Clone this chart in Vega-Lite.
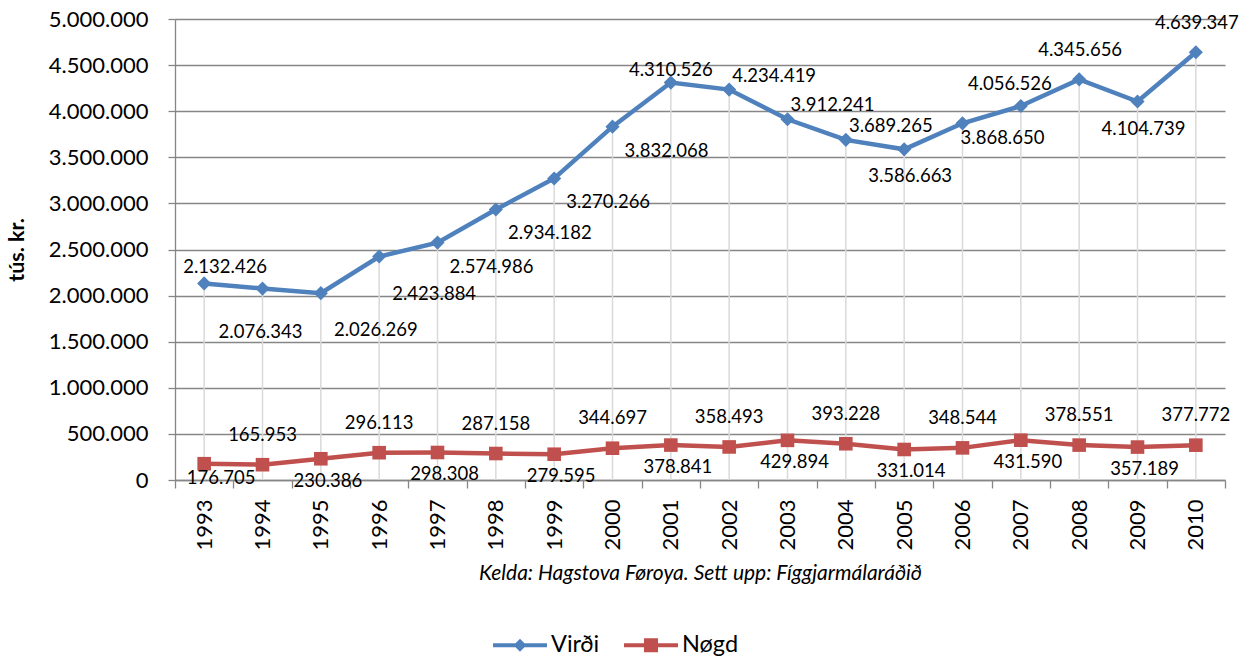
{
  "$schema": "https://vega.github.io/schema/vega-lite/v6.json",
  "autosize": {"type": "none"},
  "padding": {"left": 175, "top": 19, "right": 28, "bottom": 177},
  "width": 1050,
  "height": 461,
  "background": "white",
  "config": {
    "font": "Lato",
    "view": {"stroke": null},
    "locale": {"number": {"decimal": ",", "thousands": ".", "grouping": [3], "currency": ["", " kr."]}},
    "text": {"font": "Lato", "fontSize": 18.5, "color": "#000000", "baseline": "middle", "align": "center"}
  },
  "datasets": {
    "d": [
      {"year": 1993, "serie": "Virði", "value": 2132426},
      {"year": 1994, "serie": "Virði", "value": 2076343},
      {"year": 1995, "serie": "Virði", "value": 2026269},
      {"year": 1996, "serie": "Virði", "value": 2423884},
      {"year": 1997, "serie": "Virði", "value": 2574986},
      {"year": 1998, "serie": "Virði", "value": 2934182},
      {"year": 1999, "serie": "Virði", "value": 3270266},
      {"year": 2000, "serie": "Virði", "value": 3832068},
      {"year": 2001, "serie": "Virði", "value": 4310526},
      {"year": 2002, "serie": "Virði", "value": 4234419},
      {"year": 2003, "serie": "Virði", "value": 3912241},
      {"year": 2004, "serie": "Virði", "value": 3689265},
      {"year": 2005, "serie": "Virði", "value": 3586663},
      {"year": 2006, "serie": "Virði", "value": 3868650},
      {"year": 2007, "serie": "Virði", "value": 4056526},
      {"year": 2008, "serie": "Virði", "value": 4345656},
      {"year": 2009, "serie": "Virði", "value": 4104739},
      {"year": 2010, "serie": "Virði", "value": 4639347},
      {"year": 1993, "serie": "Nøgd", "value": 176705},
      {"year": 1994, "serie": "Nøgd", "value": 165953},
      {"year": 1995, "serie": "Nøgd", "value": 230386},
      {"year": 1996, "serie": "Nøgd", "value": 296113},
      {"year": 1997, "serie": "Nøgd", "value": 298308},
      {"year": 1998, "serie": "Nøgd", "value": 287158},
      {"year": 1999, "serie": "Nøgd", "value": 279595},
      {"year": 2000, "serie": "Nøgd", "value": 344697},
      {"year": 2001, "serie": "Nøgd", "value": 378841},
      {"year": 2002, "serie": "Nøgd", "value": 358493},
      {"year": 2003, "serie": "Nøgd", "value": 429894},
      {"year": 2004, "serie": "Nøgd", "value": 393228},
      {"year": 2005, "serie": "Nøgd", "value": 331014},
      {"year": 2006, "serie": "Nøgd", "value": 348544},
      {"year": 2007, "serie": "Nøgd", "value": 431590},
      {"year": 2008, "serie": "Nøgd", "value": 378551},
      {"year": 2009, "serie": "Nøgd", "value": 357189},
      {"year": 2010, "serie": "Nøgd", "value": 377772}
    ]
  },
  "data": {"name": "d"},
  "encoding": {
    "x": {
      "field": "year", "type": "ordinal", "bandPosition": 0.5,
      "scale": {"type": "band", "paddingInner": 0, "paddingOuter": 0},
      "axis": {
        "title": "Kelda: Hagstova Føroya. Sett upp: Fíggjarmálaráðið",
        "titleFont": "Lato", "titleFontStyle": "italic", "titleFontWeight": "normal", "titleFontSize": 21, "titleColor": "#000000", "titlePadding": 12,
        "labelAngle": -90, "labelAlign": "right", "labelBaseline": "middle", "labelFont": "Lato", "labelFontSize": 22, "labelColor": "#000000", "labelPadding": 11,
        "tickBand": "extent", "ticks": true, "tickSize": 8, "tickColor": "#868686", "tickWidth": 1.3,
        "domainColor": "#868686", "domainWidth": 1.3, "grid": false
      }
    },
    "y": {
      "field": "value", "type": "quantitative",
      "scale": {"domain": [0, 5000000], "nice": false},
      "axis": {
        "title": "tús. kr.", "titleFont": "Lato", "titleFontWeight": "bold", "titleFontSize": 21.5, "titleColor": "#000000", "titlePadding": 20,
        "values": [0, 500000, 1000000, 1500000, 2000000, 2500000, 3000000, 3500000, 4000000, 4500000, 5000000],
        "format": ",d", "labelFont": "Lato", "labelFontSize": 22, "labelColor": "#000000", "labelPadding": 20,
        "tickSize": 7, "tickColor": "#868686", "tickWidth": 1.3,
        "grid": true, "gridColor": "#868686", "gridWidth": 1.3,
        "domainColor": "#868686", "domainWidth": 1.3
      }
    }
  },
  "layer": [
    {
      "transform": [{"filter": "datum.serie == 'Virði'"}],
      "mark": {"type": "rule", "color": "#d9d9d9", "strokeWidth": 1.5},
      "encoding": {"y": {"datum": 0, "type": "quantitative"}, "y2": {"field": "value"}}
    },
    {
      "transform": [{"filter": "datum.serie == 'Virði'"}],
      "mark": {"type": "line", "strokeWidth": 4.5, "color": "#4F81BD"},
      "encoding": {}
    },
    {
      "transform": [{"filter": "datum.serie == 'Nøgd'"}],
      "mark": {"type": "line", "strokeWidth": 4.5, "color": "#C0504D"},
      "encoding": {}
    },
    {
      "transform": [{"filter": "datum.serie == 'Virði'"}],
      "mark": {"type": "point", "filled": true, "opacity": 1, "shape": "diamond", "size": 200, "color": "#4F81BD"},
      "encoding": {}
    },
    {
      "transform": [{"filter": "datum.serie == 'Nøgd'"}],
      "mark": {"type": "point", "filled": true, "opacity": 1, "shape": "square", "size": 185, "color": "#C0504D"},
      "encoding": {}
    },
    {
      "mark": {"type": "point", "filled": true, "opacity": 0},
      "encoding": {
        "color": {
          "field": "serie", "type": "nominal",
          "scale": {"domain": ["Virði", "Nøgd"], "range": ["#4F81BD", "#C0504D"]},
          "legend": {
            "orient": "none", "legendX": 318, "legendY": 599, "direction": "horizontal", "title": null,
            "symbolSize": 2916, "symbolOpacity": 1, "symbolStrokeWidth": 0, "labelFont": "Lato", "labelFontSize": 23.5, "labelColor": "#000000", "columnPadding": 24, "labelOffset": 4
          }
        },
        "shape": {
          "field": "serie", "type": "nominal",
          "scale": {"domain": ["Virði", "Nøgd"], "range": ["M-1,-0.075L1,-0.075L1,0.075L-1,0.075Z M0,-0.24L0.24,0L0,0.24L-0.24,0Z", "M-1,-0.075L1,-0.075L1,0.075L-1,0.075Z M-0.26,-0.26L0.26,-0.26L0.26,0.26L-0.26,0.26Z"]},
          "legend": {
            "orient": "none", "legendX": 318, "legendY": 599, "direction": "horizontal", "title": null,
            "symbolSize": 2916, "symbolOpacity": 1, "symbolStrokeWidth": 0, "labelFont": "Lato", "labelFontSize": 23.5, "labelColor": "#000000", "columnPadding": 24, "labelOffset": 4
          }
        }
      }
    },
    {
      "transform": [{"filter": "datum.serie == 'Nøgd' && datum.year % 2 == 0"}],
      "mark": {"type": "text", "dy": -30, "dx": 0},
      "encoding": {"text": {"field": "value", "type": "quantitative", "format": ",d"}}
    },
    {
      "transform": [{"filter": "datum.serie == 'Nøgd' && datum.year % 2 == 1 && datum.year != 1993"}],
      "mark": {"type": "text", "dy": 22, "dx": 7},
      "encoding": {"text": {"field": "value", "type": "quantitative", "format": ",d"}}
    },
    {
      "transform": [{"filter": "datum.serie == 'Nøgd' && datum.year == 1993"}],
      "mark": {"type": "text", "dy": 14, "dx": 17},
      "encoding": {"text": {"field": "value", "type": "quantitative", "format": ",d"}}
    },
    {
      "transform": [{"filter": "datum.serie == 'Virði' && datum.year == 1993"}],
      "mark": {"type": "text", "dy": -16, "dx": 21},
      "encoding": {"text": {"field": "value", "type": "quantitative", "format": ",d"}}
    },
    {
      "transform": [{"filter": "datum.serie == 'Virði' && datum.year == 2001"}],
      "mark": {"type": "text", "dy": -13, "dx": 0},
      "encoding": {"text": {"field": "value", "type": "quantitative", "format": ",d"}}
    },
    {
      "transform": [{"filter": "datum.serie == 'Virði' && datum.year == 2007"}],
      "mark": {"type": "text", "dy": -22, "dx": -11},
      "encoding": {"text": {"field": "value", "type": "quantitative", "format": ",d"}}
    },
    {
      "transform": [{"filter": "datum.serie == 'Virði' && indexof([2008, 2010], datum.year) >= 0"}],
      "mark": {"type": "text", "dy": -29, "dx": 1},
      "encoding": {"text": {"field": "value", "type": "quantitative", "format": ",d"}}
    },
    {
      "transform": [{"filter": "datum.serie == 'Virði' && datum.year == 1994"}],
      "mark": {"type": "text", "dy": 43, "dx": -2},
      "encoding": {"text": {"field": "value", "type": "quantitative", "format": ",d"}}
    },
    {
      "transform": [{"filter": "datum.serie == 'Virði' && indexof([2005, 2009], datum.year) >= 0"}],
      "mark": {"type": "text", "dy": 27, "dx": 6},
      "encoding": {"text": {"field": "value", "type": "quantitative", "format": ",d"}}
    },
    {
      "transform": [{"filter": "datum.serie == 'Virði' && indexof([1995, 1996], datum.year) >= 0"}],
      "mark": {"type": "text", "dy": 37, "dx": 55},
      "encoding": {"text": {"field": "value", "type": "quantitative", "format": ",d"}}
    },
    {
      "transform": [{"filter": "datum.serie == 'Virði' && indexof([1997, 1998, 1999, 2000], datum.year) >= 0"}],
      "mark": {"type": "text", "dy": 24, "dx": 54},
      "encoding": {"text": {"field": "value", "type": "quantitative", "format": ",d"}}
    },
    {
      "transform": [{"filter": "datum.serie == 'Virði' && datum.year == 2006"}],
      "mark": {"type": "text", "dy": 15, "dx": 40},
      "encoding": {"text": {"field": "value", "type": "quantitative", "format": ",d"}}
    },
    {
      "transform": [{"filter": "datum.serie == 'Virði' && indexof([2002, 2003, 2004], datum.year) >= 0"}],
      "mark": {"type": "text", "dy": -14, "dx": 45},
      "encoding": {"text": {"field": "value", "type": "quantitative", "format": ",d"}}
    }
  ]
}
